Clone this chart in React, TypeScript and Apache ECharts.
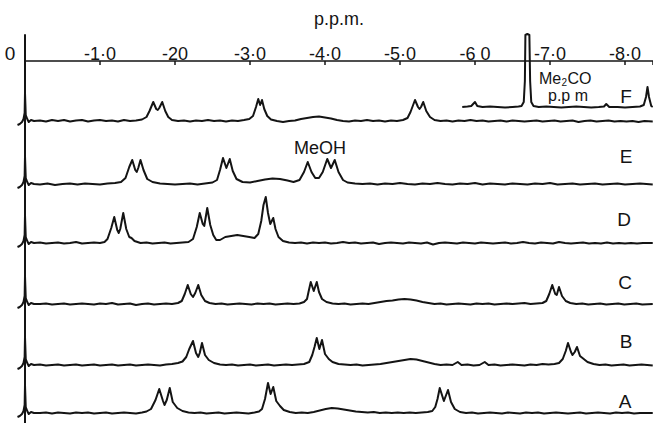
import React, { useEffect, useRef } from "react";
import * as echarts from "echarts";

// ---------- data ----------
const tickLabels = ["0", "-1·0", "-20", "-3·0", "-4·0", "-5·0", "-6 0", "-7·0", "-8·0"];
const rowLabels = ["F", "E", "D", "C", "B", "A"];
const axisTitle = "p.p.m.";

// [ppm, relative intensity]
const spectrumF: number[][] = [
  [-0.1, -4], [-0.07, -3], [-0.04, -1], [-0.02, 2], [-0.005, 8], [0, 28], [0.01, 6], [0.03, 2], [0.05, -1], [0.08, 1], [0.12, 0],
  [0.2, 0.5], [0.28, -0.5], [0.36, 1], [0.44, 0], [0.52, 1], [0.6, -0.5], [0.68, 0.5], [0.76, 1], [0.84, -0.5], [0.92, 0.5], [1.0, 1], [1.08, 0], [1.16, 0.5], [1.24, -0.5], [1.32, 1], [1.4, 0], [1.48, 0.5], [1.56, 1.5],
  [1.62, 4], [1.66, 10], [1.71, 19], [1.75, 12], [1.77, 11], [1.79, 13], [1.83, 19], [1.87, 10], [1.91, 4], [1.96, 1],
  [2.04, 0], [2.12, 0.5], [2.2, -0.5], [2.28, 0.5], [2.36, 0], [2.44, 1], [2.52, 0], [2.6, 0.5], [2.68, -0.5], [2.76, 0.5], [2.84, 0], [2.92, 1], [2.99, 2], [3.04, 5],
  [3.08, 14], [3.11, 22], [3.135, 16], [3.16, 21], [3.19, 12], [3.23, 5], [3.28, 1.5], [3.36, 0], [3.44, -1], [3.52, 0], [3.6, 0.5], [3.68, 2], [3.76, 3], [3.84, 4], [3.92, 4.5], [4.0, 3.5], [4.08, 2.5], [4.16, 1], [4.24, 0], [4.32, -0.5], [4.4, 0.5], [4.48, 0], [4.56, 1], [4.64, 0], [4.72, 0.5], [4.8, -0.5], [4.88, 0.5], [4.96, 0], [5.04, 1], [5.1, 3],
  [5.14, 9], [5.2, 21], [5.24, 14], [5.26, 12], [5.28, 14], [5.31, 19], [5.35, 10], [5.4, 4], [5.46, 1],
  [5.54, 0], [5.62, 0.5], [5.7, -0.5], [5.78, 0.5], [5.86, 0], [5.94, 1], [6.02, 0], [6.1, 0.5], [6.18, -0.5], [6.26, 0], [6.34, 0.5], [6.42, -0.5], [6.5, 0.5], [6.58, 0], [6.66, -0.5], [6.74, 0], [6.82, 0.5], [6.9, -0.5], [6.98, 0], [7.06, 0.5], [7.14, -0.5], [7.22, 0], [7.3, 0.5], [7.38, -1], [7.46, 0], [7.54, 0.5], [7.62, -0.5], [7.7, 0], [7.78, 0.5], [7.86, -0.5], [7.94, 0], [8.02, -0.5], [8.1, 0], [8.18, -1], [8.26, 0], [8.37, -0.5],
];

// Me2CO inset trace drawn above spectrum F
const insetF: number[][] = [
  [5.83, 14], [5.9, 14.5], [5.95, 15], [6.0, 19], [6.03, 15], [6.1, 14], [6.2, 14.5], [6.3, 14], [6.4, 13.5], [6.5, 14], [6.58, 14.5],
  [6.62, 15], [6.65, 19], [6.665, 40], [6.672, 86], [6.698, 87], [6.725, 86], [6.735, 40], [6.75, 19], [6.78, 15],
  [6.85, 14], [6.95, 14.5], [7.05, 14], [7.15, 13.5], [7.25, 14], [7.35, 14.5], [7.45, 14], [7.55, 13.5], [7.65, 14], [7.72, 14.5], [7.75, 17], [7.79, 14], [7.9, 14], [8.0, 13.5], [8.1, 14], [8.2, 14.5],
  [8.25, 16], [8.28, 24], [8.3, 34], [8.32, 24], [8.35, 15], [8.37, 14],
];

const spectrumE: number[][] = [
  [-0.1, -4], [-0.07, -3], [-0.04, -1], [-0.02, 2], [-0.005, 8], [0, 28], [0.01, 6], [0.03, 2], [0.05, -1], [0.08, 1], [0.12, 0],
  [0.2, -0.5], [0.3, 0.5], [0.4, -1], [0.5, 0], [0.6, 0.5], [0.7, -0.5], [0.8, 0.5], [0.9, 0], [1.0, -0.5], [1.1, 0.5], [1.2, 1], [1.28, 2],
  [1.34, 6], [1.39, 17], [1.43, 24], [1.47, 14], [1.49, 12], [1.51, 16], [1.54, 24], [1.58, 14], [1.63, 5], [1.7, 2],
  [1.8, 0.5], [1.9, 0], [2.0, -0.5], [2.1, 0], [2.2, 0.5], [2.3, -0.5], [2.4, 0.5], [2.5, 1.5],
  [2.56, 4], [2.6, 14], [2.64, 26], [2.685, 16], [2.73, 25], [2.77, 13], [2.82, 5], [2.9, 2],
  [3.0, 1.5], [3.1, 3], [3.2, 4.5], [3.3, 5.5], [3.4, 5], [3.5, 3.5], [3.58, 2],
  [3.66, 4], [3.72, 12], [3.77, 22], [3.82, 12], [3.87, 6], [3.92, 6], [3.97, 12], [4.03, 25], [4.08, 16], [4.13, 24], [4.18, 12], [4.24, 4], [4.3, 1.5],
  [4.4, 0.5], [4.5, 0], [4.6, 0.5], [4.7, -0.5], [4.8, 0.5], [4.9, 0], [5.0, 1], [5.1, 0], [5.2, -0.5], [5.3, 0.5], [5.4, 0], [5.5, 1], [5.6, 0], [5.7, -0.5], [5.8, 0.5], [5.9, 0], [6.0, 1], [6.1, -0.5], [6.2, 0.5], [6.3, 0], [6.4, -0.5], [6.5, 0.5], [6.6, 0], [6.7, -0.5], [6.8, 0.5], [6.9, 0], [7.0, 1], [7.1, -0.5], [7.2, 0], [7.3, 0.5], [7.4, -0.5], [7.5, 0], [7.6, 0.5], [7.7, -0.5], [7.8, 0], [7.9, 0.5], [8.0, -0.5], [8.1, 0], [8.2, 0.5], [8.37, -0.5],
];

const spectrumD: number[][] = [
  [-0.1, -4], [-0.07, -3], [-0.04, -1], [-0.02, 2], [-0.005, 8], [0, 28], [0.01, 6], [0.03, 2], [0.05, -1], [0.08, 1], [0.12, 0],
  [0.2, 0.5], [0.28, -0.5], [0.36, 0], [0.44, 0.5], [0.52, -0.5], [0.6, 0], [0.68, 1], [0.76, -0.5], [0.84, 0], [0.92, 0.5], [1.0, 0], [1.06, 1],
  [1.1, 4], [1.15, 15], [1.19, 26], [1.23, 13], [1.25, 10], [1.27, 14], [1.31, 30], [1.35, 14], [1.39, 6], [1.42, 5], [1.46, 2],
  [1.54, 0], [1.62, 0.5], [1.7, -0.5], [1.78, 0], [1.86, 0.5], [1.94, -0.5], [2.02, 0], [2.1, 0.5], [2.18, 1],
  [2.24, 4], [2.29, 16], [2.33, 30], [2.37, 19], [2.39, 17], [2.43, 35], [2.47, 18], [2.51, 8], [2.55, 3],
  [2.6, 3], [2.67, 6], [2.75, 7], [2.83, 8], [2.91, 7], [2.99, 6], [3.06, 5],
  [3.11, 9], [3.15, 22], [3.18, 38], [3.21, 46], [3.24, 30], [3.27, 19], [3.31, 25], [3.34, 14], [3.38, 6], [3.44, 2],
  [3.52, 0.5], [3.6, 0], [3.68, 0.5], [3.76, -0.5], [3.84, 0.5], [3.92, 0], [4.0, 0.5], [4.08, -0.5], [4.16, 0], [4.24, 1], [4.32, 0], [4.4, 0.5], [4.48, -0.5], [4.56, 0], [4.64, 0.5], [4.72, -1], [4.8, 0], [4.88, 0.5], [4.96, 0], [5.04, -0.5], [5.12, 0.5], [5.2, 0], [5.28, -0.5], [5.36, 0.5], [5.44, -1.5], [5.52, 0], [5.6, 0.5], [5.68, 0], [5.76, -0.5], [5.84, 0.5], [5.92, 0], [6.0, -0.5], [6.08, 0.5], [6.16, 0], [6.24, -0.5], [6.32, 0], [6.4, 0.5], [6.48, -0.5], [6.56, 0], [6.64, 1], [6.72, 0], [6.8, -0.5], [6.88, 0.5], [6.96, 0], [7.04, -0.5], [7.12, 1], [7.2, 0], [7.28, -0.5], [7.36, 0], [7.44, 0.5], [7.52, -0.5], [7.6, 0], [7.68, -0.5], [7.76, 0.5], [7.84, -0.5], [7.92, 0], [8.0, -0.5], [8.08, 0], [8.16, -0.5], [8.24, 0], [8.37, 0],
];

const spectrumC: number[][] = [
  [-0.1, -4], [-0.07, -3], [-0.04, -1], [-0.02, 2], [-0.005, 8], [0, 28], [0.01, 6], [0.03, 2], [0.05, -1], [0.08, 1], [0.12, 0],
  [0.2, 0], [0.28, 0.5], [0.36, -0.5], [0.44, 0], [0.52, 0.5], [0.6, -0.5], [0.68, 0], [0.76, 0.5], [0.84, 0], [0.92, -0.5], [1.0, 0.5], [1.08, 0], [1.16, 1], [1.24, -0.5], [1.32, 0], [1.4, 0.5], [1.48, -1], [1.56, 0], [1.64, 0.5], [1.72, -0.5], [1.8, 0], [1.88, 0.5], [1.96, 0], [2.04, 1],
  [2.09, 3], [2.13, 10], [2.17, 19], [2.21, 10], [2.24, 7], [2.27, 11], [2.31, 19], [2.35, 9], [2.4, 3], [2.46, 1],
  [2.54, 0], [2.62, 0.5], [2.7, -0.5], [2.78, 0], [2.86, 0.5], [2.94, 0], [3.02, -0.5], [3.1, 0.5], [3.18, 0], [3.26, 0.5], [3.34, -0.5], [3.42, 0], [3.5, 0.5], [3.58, 0], [3.66, 0.5], [3.72, 2],
  [3.76, 5], [3.78, 12], [3.81, 22], [3.85, 13], [3.89, 22], [3.92, 12], [3.96, 5], [4.02, 2],
  [4.1, 0.5], [4.18, 0], [4.26, 0.5], [4.34, -0.5], [4.42, 0], [4.5, 0.5], [4.58, 0], [4.66, 1], [4.74, 2], [4.82, 3], [4.9, 3.5], [4.98, 4.5], [5.06, 5], [5.14, 4.5], [5.22, 3.5], [5.3, 2], [5.38, 1], [5.46, 0], [5.54, 0.5], [5.62, -0.5], [5.7, 0], [5.78, 0.5], [5.86, 0], [5.94, -0.5], [6.02, 0.5], [6.1, 0], [6.18, 0.5], [6.26, -0.5], [6.34, 0], [6.42, 0.5], [6.5, 0], [6.58, 0.5], [6.66, 1], [6.74, 0], [6.82, 0.5], [6.9, 1],
  [6.95, 3], [6.99, 10], [7.03, 19], [7.07, 10], [7.09, 9], [7.12, 17], [7.16, 8], [7.21, 3], [7.27, 1],
  [7.35, 0], [7.43, 0.5], [7.51, -0.5], [7.59, 0], [7.67, 0.5], [7.75, -0.5], [7.83, 0], [7.91, 0.5], [7.99, -0.5], [8.07, 0], [8.15, 0.5], [8.23, -0.5], [8.37, 0],
];

const spectrumB: number[][] = [
  [-0.1, -4], [-0.07, -3], [-0.04, -1], [-0.02, 2], [-0.005, 8], [0, 28], [0.01, 6], [0.03, 2], [0.05, -1], [0.08, 1], [0.12, 0],
  [0.2, 0.5], [0.28, -0.5], [0.36, 0], [0.44, 0.5], [0.52, -0.5], [0.6, 0], [0.68, 0.5], [0.76, -0.5], [0.84, 0], [0.92, 0.5], [1.0, -0.5], [1.08, 0], [1.16, 0.5], [1.24, -0.5], [1.32, 0], [1.4, 0.5], [1.48, -0.5], [1.56, 0], [1.64, 0.5], [1.72, 0], [1.8, -0.5], [1.88, 0.5], [1.96, 1], [2.04, 2], [2.1, 3.5],
  [2.15, 8], [2.19, 16], [2.24, 24], [2.28, 12], [2.31, 8], [2.33, 12], [2.36, 22], [2.4, 10], [2.45, 5], [2.52, 2],
  [2.6, 0.5], [2.68, 0], [2.76, 0.5], [2.84, -0.5], [2.92, 0], [3.0, 0.5], [3.08, -0.5], [3.16, 0], [3.24, 0.5], [3.32, -0.5], [3.4, 0], [3.48, 0.5], [3.56, 0], [3.64, 0.5], [3.72, 1], [3.79, 3],
  [3.83, 10], [3.86, 18], [3.89, 27], [3.925, 16], [3.96, 25], [4.0, 11], [4.05, 6], [4.1, 3], [4.18, 1],
  [4.26, 0.5], [4.34, 0], [4.42, 0.5], [4.5, -0.5], [4.58, 0], [4.66, 0.5], [4.74, 1], [4.82, 2], [4.9, 3], [4.98, 4], [5.06, 5], [5.14, 6], [5.22, 5.5], [5.3, 4], [5.38, 2.5], [5.46, 1], [5.54, 0], [5.62, 0.5], [5.7, 0], [5.77, 3], [5.82, 0], [5.9, 0.5], [5.98, -0.5], [6.06, 0], [6.13, 3], [6.18, 0], [6.26, 0.5], [6.34, -0.5], [6.42, 0], [6.5, 0.5], [6.58, 0], [6.66, -0.5], [6.74, 0.5], [6.82, 0], [6.9, 1], [6.98, 0.5], [7.06, 1], [7.12, 2],
  [7.17, 6], [7.21, 14], [7.24, 22], [7.28, 13], [7.3, 10], [7.33, 13], [7.36, 18], [7.4, 9], [7.45, 6], [7.5, 3], [7.58, 1],
  [7.66, 0], [7.74, 0.5], [7.82, -0.5], [7.9, 0], [7.98, 0.5], [8.06, -0.5], [8.14, 0], [8.22, 0.5], [8.37, -0.5],
];

const spectrumA: number[][] = [
  [-0.1, -4], [-0.07, -3], [-0.04, -1], [-0.02, 2], [-0.005, 8], [0, 28], [0.01, 6], [0.03, 2], [0.05, -1], [0.08, 1], [0.12, 0],
  [0.2, 0], [0.28, 0.5], [0.36, -0.5], [0.44, 0.5], [0.52, 0], [0.6, -0.5], [0.68, 0.5], [0.76, 0], [0.84, 0.5], [0.92, -0.5], [1.0, 0], [1.08, 0.5], [1.16, -0.5], [1.24, 0], [1.32, 0.5], [1.4, 0], [1.48, -0.5], [1.56, 0.5], [1.62, 1.5],
  [1.68, 4], [1.74, 13], [1.79, 24], [1.84, 12], [1.86, 8], [1.89, 13], [1.93, 25], [1.97, 11], [2.03, 5], [2.1, 2],
  [2.18, 0.5], [2.26, 0], [2.34, 0.5], [2.42, -0.5], [2.5, 0], [2.58, 0.5], [2.66, -0.5], [2.74, 0], [2.82, 0.5], [2.9, 0], [2.98, -0.5], [3.06, 0.5], [3.12, 1.5],
  [3.16, 4], [3.2, 14], [3.24, 30], [3.275, 19], [3.31, 26], [3.35, 12], [3.4, 7], [3.45, 3], [3.53, 1],
  [3.61, 0], [3.69, 0.5], [3.77, 0], [3.85, 1], [3.93, 2.5], [4.01, 4], [4.09, 5], [4.17, 4.5], [4.25, 3.5], [4.33, 2.5], [4.41, 1.5], [4.49, 1], [4.57, 0.5], [4.65, 1], [4.73, 0], [4.81, 0.5], [4.89, 0], [4.97, 0.5], [5.05, 0], [5.13, 0.5], [5.21, 0], [5.29, 0.5], [5.37, 1], [5.43, 2],
  [5.47, 6], [5.5, 14], [5.53, 25], [5.585, 12], [5.64, 23], [5.68, 11], [5.73, 4], [5.8, 1],
  [5.88, 0], [5.96, 0.5], [6.04, -0.5], [6.12, 0], [6.2, 0.5], [6.28, 0], [6.36, -0.5], [6.44, 0.5], [6.52, 0], [6.6, -0.5], [6.68, 0.5], [6.76, 0], [6.84, 0.5], [6.92, -0.5], [7.0, 0], [7.08, 0.5], [7.16, 0], [7.24, -0.5], [7.32, 0], [7.4, 0.5], [7.48, -0.5], [7.56, 0], [7.64, 0.5], [7.72, 0], [7.8, -0.5], [7.88, 0.5], [7.96, 0], [8.04, 0.5], [8.12, -0.5], [8.2, 0], [8.37, 0],
];

const spectra = [spectrumF, spectrumE, spectrumD, spectrumC, spectrumB, spectrumA];

// ---------- layout ----------
const W = 653;
const H = 423;
const PX_PER_PPM = 75;
const AXIS_LEFT = 25;
const AXIS_TOP = 61;
const VLINE_TOP = 35;
const TRACE_LEFT = 17;
const XMAX = (W - AXIS_LEFT) / PX_PER_PPM;
const XMIN = -(AXIS_LEFT - TRACE_LEFT) / PX_PER_PPM;
const YMIN = -10;
const rowLayout = [
  { baseline: 121, ymax: 95 },
  { baseline: 184, ymax: 60 },
  { baseline: 243, ymax: 60 },
  { baseline: 304, ymax: 60 },
  { baseline: 365, ymax: 60 },
  { baseline: 413, ymax: 60 },
];
const rowLabelPos = [[626, 96], [626, 156], [624, 219], [625, 282], [626, 341], [625, 401]];
const INK = "#141414";
const FONT = '"Liberation Sans", Arial, sans-serif';

export default function App() {
  const ref = useRef<HTMLDivElement>(null);

  useEffect(() => {
    document.body.style.margin = "0";
    if (!ref.current) return;
    const chart = echarts.init(ref.current, undefined, { renderer: "svg" });

    const grids: any[] = [
      // main ppm axis
      { left: AXIS_LEFT, right: 0, top: AXIS_TOP, height: H - AXIS_TOP, outerBoundsMode: "none" },
      // vertical reference line
      { left: AXIS_LEFT, right: 0, top: VLINE_TOP, height: H - VLINE_TOP, outerBoundsMode: "none" },
    ];
    const xAxes: any[] = [
      {
        gridIndex: 0,
        type: "value",
        min: 0,
        max: XMAX,
        interval: 1,
        position: "top",
        axisLine: { show: true, onZero: false, lineStyle: { color: INK, width: 1.6 } },
        axisTick: { show: true, inside: true, length: 4, lineStyle: { color: INK, width: 1.5 } },
        splitLine: { show: false },
        axisLabel: {
          color: INK,
          fontSize: 18,
          fontFamily: FONT,
          margin: -2,
          formatter: (v: number) => {
            const i = Math.round(v);
            if (Math.abs(v - i) > 1e-6) return "";
            if (i === 0) return "{z|" + tickLabels[0] + "}";
            return tickLabels[i] ?? "";
          },
          rich: { z: { fontSize: 19, fontFamily: FONT, color: INK, padding: [0, 30, 0, 0] } },
        },
        name: axisTitle,
        nameLocation: "middle",
        nameGap: 33,
        nameTextStyle: { color: INK, fontSize: 18, fontFamily: FONT },
      },
      { gridIndex: 1, type: "value", min: 0, max: XMAX, show: false, splitLine: { show: false } },
    ];
    const yAxes: any[] = [
      { gridIndex: 0, type: "value", show: false, splitLine: { show: false } },
      {
        gridIndex: 1,
        type: "value",
        min: 0,
        max: 1,
        axisLine: { show: true, onZero: false, lineStyle: { color: INK, width: 2 } },
        axisTick: { show: false },
        axisLabel: { show: false },
        splitLine: { show: false },
      },
    ];
    const series: any[] = [];
    const base = grids.length;

    rowLayout.forEach((r, i) => {
      const gi = base + i;
      grids.push({
        left: TRACE_LEFT,
        right: 0,
        top: r.baseline - r.ymax,
        height: r.ymax - YMIN,
        outerBoundsMode: "none",
      });
      xAxes.push({ gridIndex: gi, type: "value", min: XMIN, max: XMAX, show: false, splitLine: { show: false } });
      yAxes.push({ gridIndex: gi, type: "value", min: YMIN, max: r.ymax, show: false, splitLine: { show: false } });
      series.push({
        type: "line",
        name: rowLabels[i],
        xAxisIndex: gi,
        yAxisIndex: gi,
        data: spectra[i],
        showSymbol: false,
        silent: true,
        lineStyle: { color: INK, width: 2, join: "round" },
      });
    });
    series.push({
      type: "line",
      name: "Me2CO",
      xAxisIndex: base,
      yAxisIndex: base,
      data: insetF,
      showSymbol: false,
      silent: true,
      lineStyle: { color: INK, width: 2, join: "round" },
    });

    const textStyle = (text: string, size: number, align = "center") => ({
      text,
      fill: INK,
      font: `${size}px ${FONT}`,
      align,
      verticalAlign: "middle",
    });

    const graphic: any[] = rowLabels.map((l, i) => ({
      type: "text",
      x: rowLabelPos[i][0],
      y: rowLabelPos[i][1],
      silent: true,
      style: textStyle(l, 19),
    }));
    graphic.push({ type: "text", x: 320, y: 148, silent: true, style: textStyle("MeOH", 18) });
    graphic.push({ type: "text", x: 539, y: 78, silent: true, style: textStyle("Me", 16, "left") });
    graphic.push({ type: "text", x: 561.5, y: 82, silent: true, style: textStyle("2", 10, "left") });
    graphic.push({ type: "text", x: 567.5, y: 78, silent: true, style: textStyle("CO", 16, "left") });
    graphic.push({ type: "text", x: 568, y: 95.5, silent: true, style: textStyle("p.p m", 16) });

    chart.setOption({
      animation: false,
      backgroundColor: "#ffffff",
      grid: grids,
      xAxis: xAxes,
      yAxis: yAxes,
      series,
      graphic,
    });

    return () => chart.dispose();
  }, []);

  return <div ref={ref} style={{ width: W, height: H }} />;
}
